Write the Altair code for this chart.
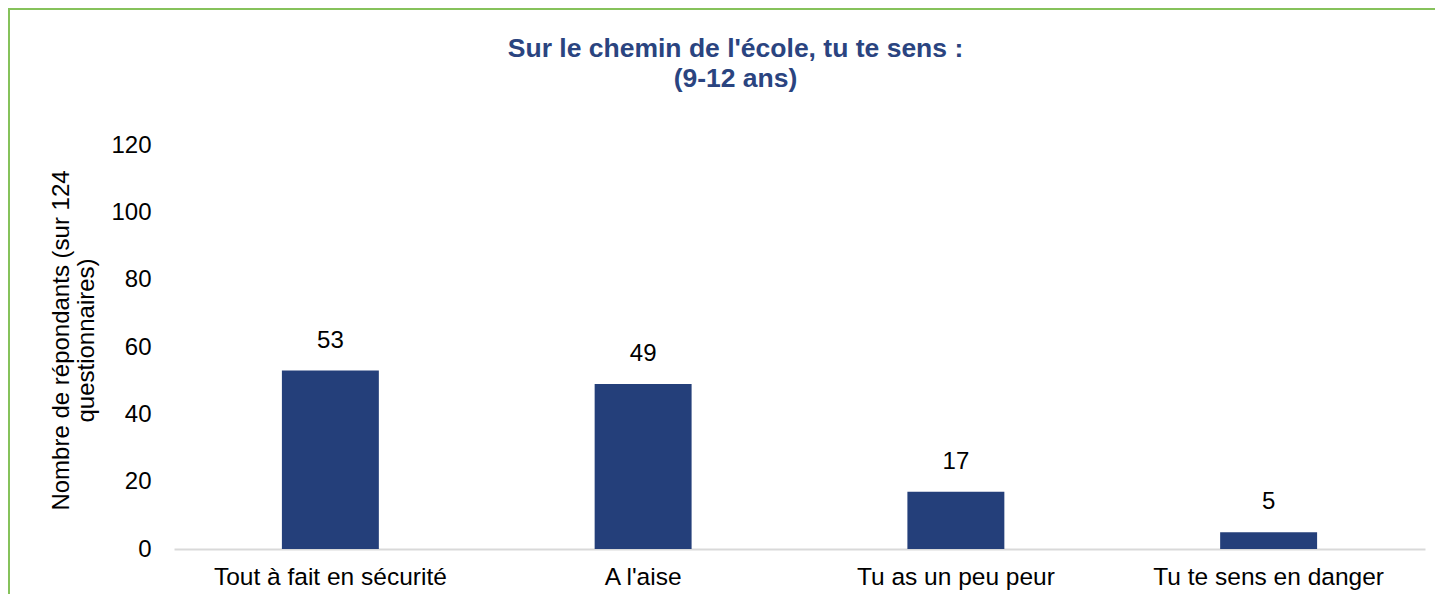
import altair as alt
import pandas as pd

categories = ["Tout à fait en sécurité", "A l'aise", "Tu as un peu peur", "Tu te sens en danger"]
values = [53, 49, 17, 5]
title_lines = ["Sur le chemin de l'école, tu te sens :", "(9-12 ans)"]
y_title = ["Nombre de répondants (sur 124", "questionnaires)"]

df = pd.DataFrame({"cat": categories, "val": values})

FONT = "Liberation Sans"
BAR = "#243F7A"
W, H = 1251, 404

x = alt.X("cat:N", sort=categories, title=None,
          scale=alt.Scale(paddingInner=0.69, paddingOuter=0.345),
          axis=alt.Axis(labelAngle=0, labelFontSize=24.5, labelColor="#000000",
                        labelPadding=16, ticks=False, domainColor="#D9D9D9",
                        domainWidth=2, labelFont=FONT, labelLimit=0))
y = alt.Y("val:Q", title=y_title,
          scale=alt.Scale(domain=[0, 120]),
          axis=alt.Axis(values=[0, 20, 40, 60, 80, 100, 120], grid=False, domain=False,
                        ticks=False, labelFontSize=24, labelColor="#000000",
                        labelPadding=23, labelFont=FONT, titleFont=FONT,
                        titleFontSize=24, titleFontWeight="normal", titleColor="#000000",
                        titlePadding=12, titleLineHeight=25, titleY=195))

bars = alt.Chart(df).mark_bar(color=BAR).encode(x=x, y=y)
labels = alt.Chart(df).mark_text(dy=-18, baseline="bottom", fontSize=24,
                                 font=FONT, color="#000000").encode(
    x=alt.X("cat:N", sort=categories), y="val:Q", text="val:Q")

frame = alt.Chart(pd.DataFrame({"k": [0]})).mark_rect(
    fillOpacity=0, stroke="#86C25B", strokeWidth=2).encode(
    x=alt.value(-165), x2=alt.value(3000), y=alt.value(-136), y2=alt.value(3000))

chart = alt.layer(frame, bars, labels).properties(
    width=W, height=H,
    title=alt.TitleParams(title_lines, anchor="middle", frame="group", dx=-64,
                          fontSize=26.5, font=FONT, fontWeight="bold", color="#2A4480",
                          lineHeight=30, offset=-84),
    autosize=alt.AutoSizeParams(type="none"),
    padding={"left": 166, "top": 137, "right": 10, "bottom": 45},
).configure(background="white").configure_view(stroke=None, strokeWidth=0)

chart.save("out.html", embed_options={"renderer": "svg", "actions": False})
